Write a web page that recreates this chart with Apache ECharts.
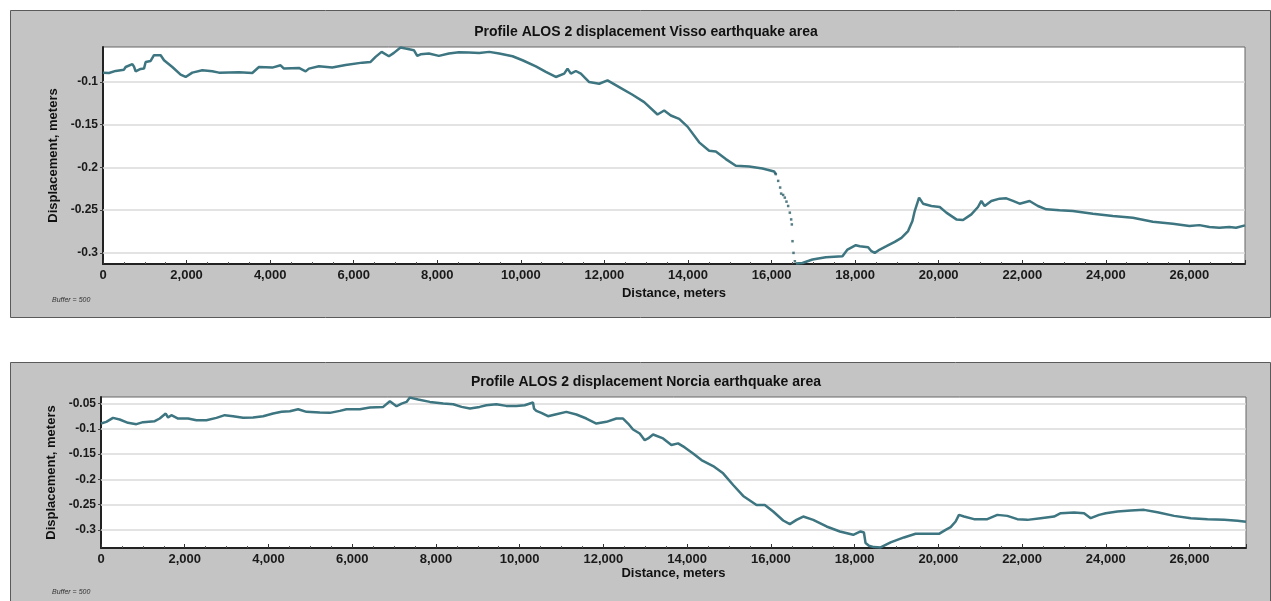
<!DOCTYPE html>
<html>
<head>
<meta charset="utf-8">
<script src="https://cdn.jsdelivr.net/npm/echarts@6/dist/echarts.min.js"></script>
<style>
html,body{margin:0;padding:0;background:#fff;}
#c{width:1271px;height:601px;}
</style>
</head>
<body>
<div id="c"></div>
<script>
// ---- Data (distance in meters, displacement in meters) ----
const vissoTitle = 'Profile ALOS 2 displacement Visso earthquake area';
const norciaTitle = 'Profile ALOS 2 displacement Norcia earthquake area';
const xName = 'Distance, meters';
const yName = 'Displacement, meters';
const bufferText = 'Buffer = 500';

const vissoBefore = [[0,-0.089],[144,-0.0894],[303,-0.087],[502,-0.0855],[542,-0.0824],[702,-0.079],[742,-0.082],[781,-0.0875],[900,-0.0847],[981,-0.0843],[1021,-0.0765],[1140,-0.0753],[1220,-0.0686],[1380,-0.0686],[1460,-0.0745],[1659,-0.0824],[1858,-0.0914],[1978,-0.0941],[2137,-0.089],[2376,-0.0863],[2616,-0.0875],[2775,-0.089],[3254,-0.0886],[3573,-0.0894],[3732,-0.0824],[4051,-0.0831],[4250,-0.0804],[4330,-0.0843],[4689,-0.0835],[4849,-0.0875],[4928,-0.0843],[5167,-0.0816],[5486,-0.0831],[5805,-0.08],[6204,-0.0773],[6404,-0.0765],[6523,-0.0706],[6667,-0.0647],[6842,-0.0698],[6962,-0.0659],[7121,-0.0596],[7241,-0.0608],[7440,-0.0627],[7520,-0.0694],[7600,-0.0675],[7799,-0.0667],[8038,-0.0694],[8278,-0.0667],[8517,-0.0651],[8756,-0.0655],[9003,-0.0659],[9242,-0.0647],[9482,-0.0667],[9801,-0.0698],[10040,-0.0745],[10359,-0.0816],[10598,-0.0882],[10837,-0.0941],[11037,-0.0902],[11117,-0.0843],[11197,-0.0902],[11316,-0.0871],[11436,-0.0902],[11635,-0.1],[11874,-0.102],[12074,-0.098],[12353,-0.1059],[12672,-0.1149],[12951,-0.1235],[13270,-0.138],[13430,-0.1333],[13589,-0.1392],[13789,-0.1431],[13988,-0.1522],[14267,-0.1706],[14506,-0.1804],[14666,-0.1812],[14905,-0.1902],[15145,-0.198],[15464,-0.1988],[15783,-0.2012],[16062,-0.2047],[16102,-0.2078]];
const vissoJump = [[16102,-0.2078],[16158,-0.2157],[16205,-0.2235],[16229,-0.2306],[16277,-0.2322],[16317,-0.2353],[16357,-0.24],[16397,-0.2451],[16437,-0.2529],[16469,-0.2608],[16485,-0.2667],[16501,-0.2863],[16525,-0.3],[16557,-0.3098]];
const vissoAfter = [[16581,-0.3125],[16740,-0.3118],[16979,-0.3078],[17298,-0.3051],[17697,-0.3039],[17817,-0.2961],[18016,-0.291],[18112,-0.2922],[18311,-0.2933],[18390,-0.298],[18470,-0.3],[18590,-0.2961],[18749,-0.2922],[18948,-0.2871],[19108,-0.2824],[19267,-0.2745],[19371,-0.2627],[19426,-0.251],[19530,-0.2353],[19625,-0.2424],[19825,-0.2451],[20024,-0.2463],[20183,-0.2529],[20422,-0.2608],[20582,-0.2616],[20781,-0.2549],[20940,-0.2463],[21020,-0.2392],[21100,-0.2451],[21259,-0.2392],[21458,-0.2365],[21618,-0.2361],[21777,-0.2392],[21936,-0.2424],[22175,-0.2392],[22374,-0.2451],[22574,-0.249],[22892,-0.2502],[23211,-0.251],[23689,-0.2541],[24167,-0.2569],[24645,-0.2588],[25123,-0.2635],[25601,-0.2659],[26000,-0.2686],[26239,-0.2675],[26478,-0.2698],[26717,-0.2706],[26956,-0.2698],[27116,-0.2706],[27330,-0.2678]];

const norcia = [[0,-0.0895],[127,-0.0862],[287,-0.0783],[446,-0.0816],[645,-0.0882],[845,-0.0908],[1004,-0.0868],[1283,-0.0849],[1402,-0.0796],[1546,-0.0697],[1602,-0.0776],[1681,-0.073],[1841,-0.0796],[2080,-0.0796],[2279,-0.0829],[2518,-0.0829],[2757,-0.0783],[2956,-0.073],[3155,-0.075],[3394,-0.0783],[3633,-0.0776],[3872,-0.075],[4111,-0.0697],[4311,-0.0664],[4510,-0.0651],[4709,-0.0612],[4908,-0.0664],[5227,-0.0678],[5466,-0.0684],[5705,-0.0645],[5864,-0.0612],[6183,-0.0612],[6422,-0.0579],[6741,-0.0566],[6900,-0.0454],[7059,-0.0553],[7179,-0.05],[7298,-0.0467],[7378,-0.0382],[7577,-0.0421],[7856,-0.0467],[8175,-0.05],[8414,-0.0513],[8613,-0.0566],[8813,-0.0599],[9044,-0.0566],[9203,-0.0533],[9442,-0.0513],[9681,-0.0546],[9920,-0.0546],[10120,-0.0533],[10319,-0.048],[10343,-0.0599],[10398,-0.0645],[10518,-0.0684],[10677,-0.075],[10876,-0.0711],[11116,-0.0664],[11355,-0.0717],[11594,-0.0796],[11833,-0.0895],[12072,-0.0862],[12311,-0.0796],[12470,-0.0796],[12590,-0.0895],[12709,-0.1013],[12868,-0.1092],[12988,-0.1224],[13068,-0.1191],[13187,-0.1112],[13426,-0.1191],[13625,-0.1322],[13785,-0.1289],[13944,-0.1368],[14143,-0.1487],[14343,-0.1618],[14621,-0.1737],[14860,-0.1882],[15100,-0.2112],[15339,-0.2329],[15658,-0.2507],[15856,-0.2507],[16056,-0.2638],[16295,-0.2816],[16454,-0.2888],[16613,-0.2803],[16773,-0.2737],[17012,-0.2803],[17330,-0.2934],[17649,-0.3033],[17968,-0.3099],[18143,-0.3033],[18223,-0.3053],[18263,-0.3263],[18343,-0.3316],[18462,-0.3342],[18622,-0.3349],[18861,-0.325],[19179,-0.3151],[19458,-0.3079],[19737,-0.3079],[20016,-0.3079],[20175,-0.3],[20295,-0.2947],[20414,-0.2836],[20494,-0.2704],[20614,-0.2737],[20853,-0.2789],[21171,-0.2789],[21410,-0.2704],[21649,-0.2724],[21888,-0.2789],[22127,-0.2803],[22446,-0.277],[22765,-0.2737],[22924,-0.2671],[23243,-0.2658],[23482,-0.2671],[23641,-0.277],[23840,-0.2704],[24000,-0.2671],[24279,-0.2638],[24598,-0.2618],[24916,-0.2605],[25235,-0.2651],[25633,-0.2724],[26032,-0.277],[26430,-0.2789],[26828,-0.2803],[27147,-0.2822],[27350,-0.2842]];

// axis ranges and tick values
const vissoX = [0, 27330];
const vissoY = [-0.313, -0.059];
const norciaX = [0, 27350];
const norciaY = [-0.336, -0.037];
const vissoYTicks = [-0.3, -0.25, -0.2, -0.15, -0.1];
const norciaYTicks = [-0.3, -0.25, -0.2, -0.15, -0.1, -0.05];

// ---- Chart ----
const FONT = "'Liberation Sans', Arial, sans-serif";
const LINE = '#3d7581';
const chart = echarts.init(document.getElementById('c'), null, {renderer: 'canvas'});

function isMultiple(v, step) {
  return Math.abs(Math.round(v / step) * step - v) < 1e-7;
}
function xAxisCfg(idx, range, gap) {
  return {
    type: 'value', gridIndex: idx, min: range[0], max: range[1], interval: 2000,
    name: xName, nameLocation: 'middle', nameGap: gap,
    nameTextStyle: {fontFamily: FONT, fontWeight: 'bold', fontSize: 13, color: '#111'},
    axisLine: {show: true, lineStyle: {color: '#222', width: 2}},
    axisTick: {show: true, inside: true, length: 4, lineStyle: {color: '#333'}},
    minorTick: {show: true, splitNumber: 4, length: 2, lineStyle: {color: '#555'}},
    splitLine: {show: false},
    axisLabel: {
      margin: 5, fontFamily: FONT, fontWeight: 'bold', fontSize: 13, color: '#1a1a1a',
      showMaxLabel: false,
      formatter: v => isMultiple(v, 2000) ? v.toLocaleString('en-US') : ''
    }
  };
}
function yAxisCfg(idx, range, ticks, gap) {
  return {
    type: 'value', gridIndex: idx, min: range[0], max: range[1],
    name: yName, nameLocation: 'middle', nameGap: gap, nameRotate: 90,
    nameTextStyle: {fontFamily: FONT, fontWeight: 'bold', fontSize: 13, color: '#111'},
    axisLine: {show: true, lineStyle: {color: '#222', width: 2}},
    axisTick: {show: true, length: 3, customValues: ticks, lineStyle: {color: '#444'}},
    splitLine: {show: false},
    axisLabel: {
      margin: 5, fontFamily: FONT, fontWeight: 'bold', fontSize: 12, color: '#1a1a1a',
      customValues: ticks,
      formatter: v => String(Math.round(v * 100) / 100)
    }
  };
}
function gridLines(ticks) {
  return {
    silent: true, symbol: 'none', animation: false, z: 1,
    label: {show: false},
    lineStyle: {color: '#dadada', width: 1.5, type: 'solid'},
    emphasis: {disabled: true},
    data: ticks.map(t => ({yAxis: t}))
  };
}
function textEl(x, y, text, style) {
  return {type: 'text', x: x, y: y, z: 100, silent: true,
    style: Object.assign({text: text, fontFamily: FONT, fill: '#111', align: 'center', verticalAlign: 'middle'}, style)};
}

const option = {
  animation: false,
  backgroundColor: '#ffffff',
  graphic: [
    {type: 'rect', z: -100, silent: true, shape: {x: 10.5, y: 10.5, width: 1260, height: 307},
      style: {fill: '#c4c4c4', stroke: '#5a5a5a', lineWidth: 1}},
    {type: 'rect', z: -100, silent: true, shape: {x: 10.5, y: 362.5, width: 1260, height: 260},
      style: {fill: '#c4c4c4', stroke: '#5a5a5a', lineWidth: 1}},
    textEl(646, 32, vissoTitle, {fontSize: 14, fontWeight: 'bold'}),
    textEl(646, 382, norciaTitle, {fontSize: 14, fontWeight: 'bold'}),
    textEl(52, 300, bufferText, {fontSize: 7, fontStyle: 'italic', align: 'left', fill: '#333'}),
    textEl(52, 592, bufferText, {fontSize: 7, fontStyle: 'italic', align: 'left', fill: '#333'})
  ],
  grid: [
    {left: 103, top: 47, width: 1142, height: 217, show: true, backgroundColor: '#ffffff', borderColor: '#666', borderWidth: 1},
    {left: 101, top: 397, width: 1145, height: 151, show: true, backgroundColor: '#ffffff', borderColor: '#666', borderWidth: 1}
  ],
  xAxis: [xAxisCfg(0, vissoX, 23), xAxisCfg(1, norciaX, 19)],
  yAxis: [yAxisCfg(0, vissoY, vissoYTicks, 39), yAxisCfg(1, norciaY, norciaYTicks, 35)],
  series: [
    {type: 'line', xAxisIndex: 0, yAxisIndex: 0, data: vissoBefore, symbol: 'none', z: 3,
      lineStyle: {color: LINE, width: 2.5}, markLine: gridLines(vissoYTicks)},
    {type: 'scatter', xAxisIndex: 0, yAxisIndex: 0, data: vissoJump, symbol: 'rect', symbolSize: 2.5, z: 3,
      itemStyle: {color: '#2c5c66'}},
    {type: 'line', xAxisIndex: 0, yAxisIndex: 0, data: vissoAfter, symbol: 'none', z: 3,
      lineStyle: {color: LINE, width: 2.5}},
    {type: 'line', xAxisIndex: 1, yAxisIndex: 1, data: norcia, symbol: 'none', z: 3,
      lineStyle: {color: LINE, width: 2.5}, markLine: gridLines(norciaYTicks)}
  ]
};
chart.setOption(option);
</script>
</body>
</html>
